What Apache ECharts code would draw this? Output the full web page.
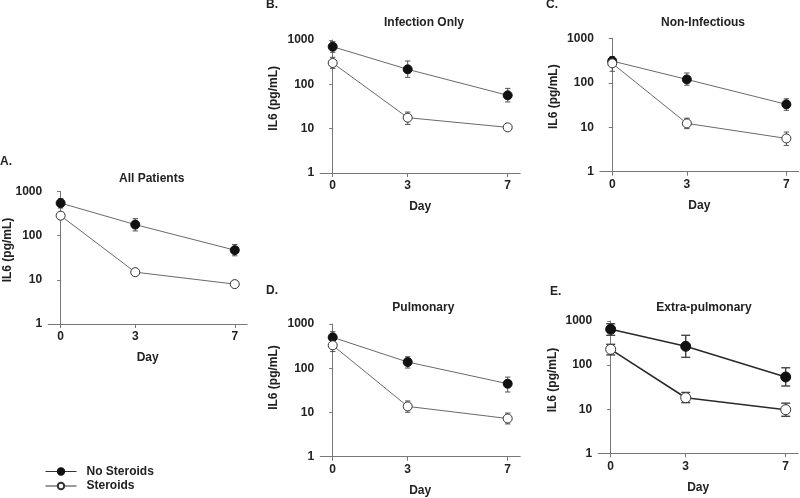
<!DOCTYPE html>
<html>
<head>
<meta charset="utf-8">
<script src="https://cdn.jsdelivr.net/npm/echarts@6/dist/echarts.min.js"></script>
<style>html,body{margin:0;padding:0;background:#fff}#c{width:800px;height:498px}</style>
</head>
<body>
<div id="c"></div>
<script>
// ---- data ----
const days = [0, 3, 7];
const yTicks = [1, 10, 100, 1000];
const panelTitles = ['All Patients', 'Infection Only', 'Non-Infectious', 'Pulmonary', 'Extra-pulmonary'];
const panelLetters = ['A.', 'B.', 'C.', 'D.', 'E.'];
const seriesNames = ['No Steroids', 'Steroids'];

// No Steroids: mean, lower, upper
const nsA = [546, 178, 47],   nsA_lo = [422, 128, 35],  nsA_hi = [685, 243, 63];
const nsB = [706, 218, 56.5], nsB_lo = [528, 144, 40],  nsB_hi = [916, 336, 81];
const nsC = [308, 119, 32.7], nsC_lo = [244, 88, 24],   nsC_hi = [390, 166, 43.7];
const nsD = [500, 138, 44.7], nsD_lo = [365, 101, 29],  nsD_hi = [670, 182, 63];
const nsE = [648, 267, 53.8], nsE_lo = [474, 150, 33.6], nsE_hi = [867, 474, 87];
// Steroids: mean, lower, upper
const sA = [284, 14.9, 8.0],  sA_lo = [235, 12.5, 7.0],  sA_hi = [340, 17.8, 9.2];
const sB = [303, 17.7, 10.7], sB_lo = [229, 12.5, 9.5],  sB_hi = [407, 23.7, 12.0];
const sC = [273, 12.2, 5.6],  sC_lo = [181, 9.3, 3.9],   sC_hi = [340, 16, 7.8];
const sD = [330, 13.7, 7.3],  sD_lo = [238, 10.1, 5.5],  sD_hi = [437, 18.2, 9.7];
const sE = [228, 18.2, 9.75], sE_lo = [170, 14.1, 6.9],  sE_hi = [296, 24, 13.7];

const panelData = [
  [nsA, nsA_lo, nsA_hi, sA, sA_lo, sA_hi],
  [nsB, nsB_lo, nsB_hi, sB, sB_lo, sB_hi],
  [nsC, nsC_lo, nsC_hi, sC, sC_lo, sC_hi],
  [nsD, nsD_lo, nsD_hi, sD, sD_lo, sD_hi],
  [nsE, nsE_lo, nsE_hi, sE, sE_lo, sE_hi]
];

// ---- layout ----
const grids = [
  {left: 48.2, top: 191.5, width: 199, height: 132.5},
  {left: 320.2, top: 40, width: 200, height: 133},
  {left: 599.8, top: 38.3, width: 199, height: 133.4},
  {left: 320.2, top: 324, width: 200, height: 132.7},
  {left: 598.2, top: 321, width: 200, height: 132.3}
];
const titlePos = [[151.7, 178.3], [424, 22.7], [703, 22.7], [423.3, 307.7], [704, 307.7]];
const letterPos = [[0, 161.5], [266, 5], [546, 5], [266, 291], [550, 291.7]];
const yNamePos = [[7.5, 250], [273.3, 98.3], [553.3, 96.7], [273.3, 377.5], [552.3, 380]];

const FONT = '"Liberation Sans", Arial, sans-serif';
const TXT = '#222';

const xAxes = [], yAxes = [], series = [], graphics = [];
grids.forEach((g, i) => {
  const heavy = i === 4;
  xAxes.push({
    type: 'value', gridIndex: i, min: -0.5, max: 7.5,
    name: 'Day', nameLocation: 'middle', nameGap: 34,
    nameTextStyle: {fontFamily: FONT, fontWeight: 'bold', fontSize: 12, color: TXT, verticalAlign: 'middle'},
    axisLine: {lineStyle: {color: '#777', width: 1}},
    axisTick: {show: true, length: 4, lineStyle: {color: '#777'}, customValues: days},
    axisLabel: {fontFamily: FONT, fontWeight: 'bold', fontSize: 12, color: TXT, margin: 7, customValues: days},
    splitLine: {show: false}
  });
  yAxes.push({
    type: 'log', logBase: 10, gridIndex: i, min: 1, max: 1000,
    axisLine: {show: true, lineStyle: {color: '#777', width: 1}},
    axisTick: {show: true, length: 3.5, lineStyle: {color: '#777'}, customValues: yTicks},
    axisLabel: {fontFamily: FONT, fontWeight: 'bold', fontSize: 12, color: TXT, margin: 6,
      customValues: yTicks, formatter: v => String(Math.round(v))},
    splitLine: {show: false}, minorTick: {show: false}
  });
  const d = panelData[i];
  const lineColor = heavy ? '#2a2a2a' : '#6a6a6a';
  const lineW = heavy ? 1.6 : 1;
  const errColor = heavy ? '#444' : '#555';
  const capHalf = heavy ? 4.5 : 2.7;
  const errW = heavy ? 1.4 : 1;
  [0, 1].forEach(k => {
    const mean = d[k * 3], lo = d[k * 3 + 1], hi = d[k * 3 + 2];
    series.push({
      type: 'custom', name: 'err' + i + '_' + k, xAxisIndex: i, yAxisIndex: i,
      z: 2, silent: true,
      data: days.map((x, j) => [x, lo[j], hi[j]]),
      encode: {x: 0, y: [1, 2]},
      renderItem: (params, api) => {
        const p1 = api.coord([api.value(0), api.value(1)]);
        const p2 = api.coord([api.value(0), api.value(2)]);
        const st = {stroke: errColor, lineWidth: errW};
        return {type: 'group', children: [
          {type: 'line', shape: {x1: p1[0], y1: p1[1], x2: p2[0], y2: p2[1]}, style: st},
          {type: 'line', shape: {x1: p1[0] - capHalf, y1: p1[1], x2: p1[0] + capHalf, y2: p1[1]}, style: st},
          {type: 'line', shape: {x1: p2[0] - capHalf, y1: p2[1], x2: p2[0] + capHalf, y2: p2[1]}, style: st}
        ]};
      }
    });
    series.push({
      type: 'line', name: seriesNames[k], xAxisIndex: i, yAxisIndex: i,
      z: 3 + k,
      data: days.map((x, j) => [x, mean[j]]),
      symbol: 'circle', symbolSize: heavy ? 10 : 9,
      lineStyle: {color: lineColor, width: lineW},
      itemStyle: k === 0
        ? {color: '#111', borderColor: '#111', borderWidth: 1}
        : {color: '#fff', borderColor: '#333', borderWidth: 1},
      emphasis: {disabled: true}, animation: false
    });
  });
  graphics.push({type: 'text', x: titlePos[i][0], y: titlePos[i][1],
    style: {text: panelTitles[i], fill: TXT, font: 'bold 12px ' + FONT, textAlign: 'center', textVerticalAlign: 'middle'}});
  graphics.push({type: 'text', x: letterPos[i][0], y: letterPos[i][1],
    style: {text: panelLetters[i], fill: TXT, font: 'bold 12px ' + FONT, textAlign: 'left', textVerticalAlign: 'middle'}});
  graphics.push({type: 'text', x: yNamePos[i][0], y: yNamePos[i][1], rotation: Math.PI / 2,
    style: {text: 'IL6 (pg/mL)', fill: TXT, font: 'bold 12px ' + FONT, textAlign: 'center', textVerticalAlign: 'middle'}});
});

const legendBase = {
  left: 45, itemWidth: 31, itemHeight: 8, selectedMode: false, padding: 0,
  lineStyle: {color: '#333', width: 1},
  textStyle: {fontFamily: FONT, fontWeight: 'bold', fontSize: 12, color: TXT, padding: [0, 0, 0, 5]}
};

const chart = echarts.init(document.getElementById('c'), null, {renderer: 'canvas'});
chart.setOption({
  animation: false,
  backgroundColor: '#fff',
  grid: grids,
  xAxis: xAxes,
  yAxis: yAxes,
  series: series,
  graphic: graphics,
  legend: [
    Object.assign({}, legendBase, {data: [seriesNames[0]], top: 465.5}),
    Object.assign({}, legendBase, {data: [seriesNames[1]], top: 480})
  ]
});
</script>
</body>
</html>
